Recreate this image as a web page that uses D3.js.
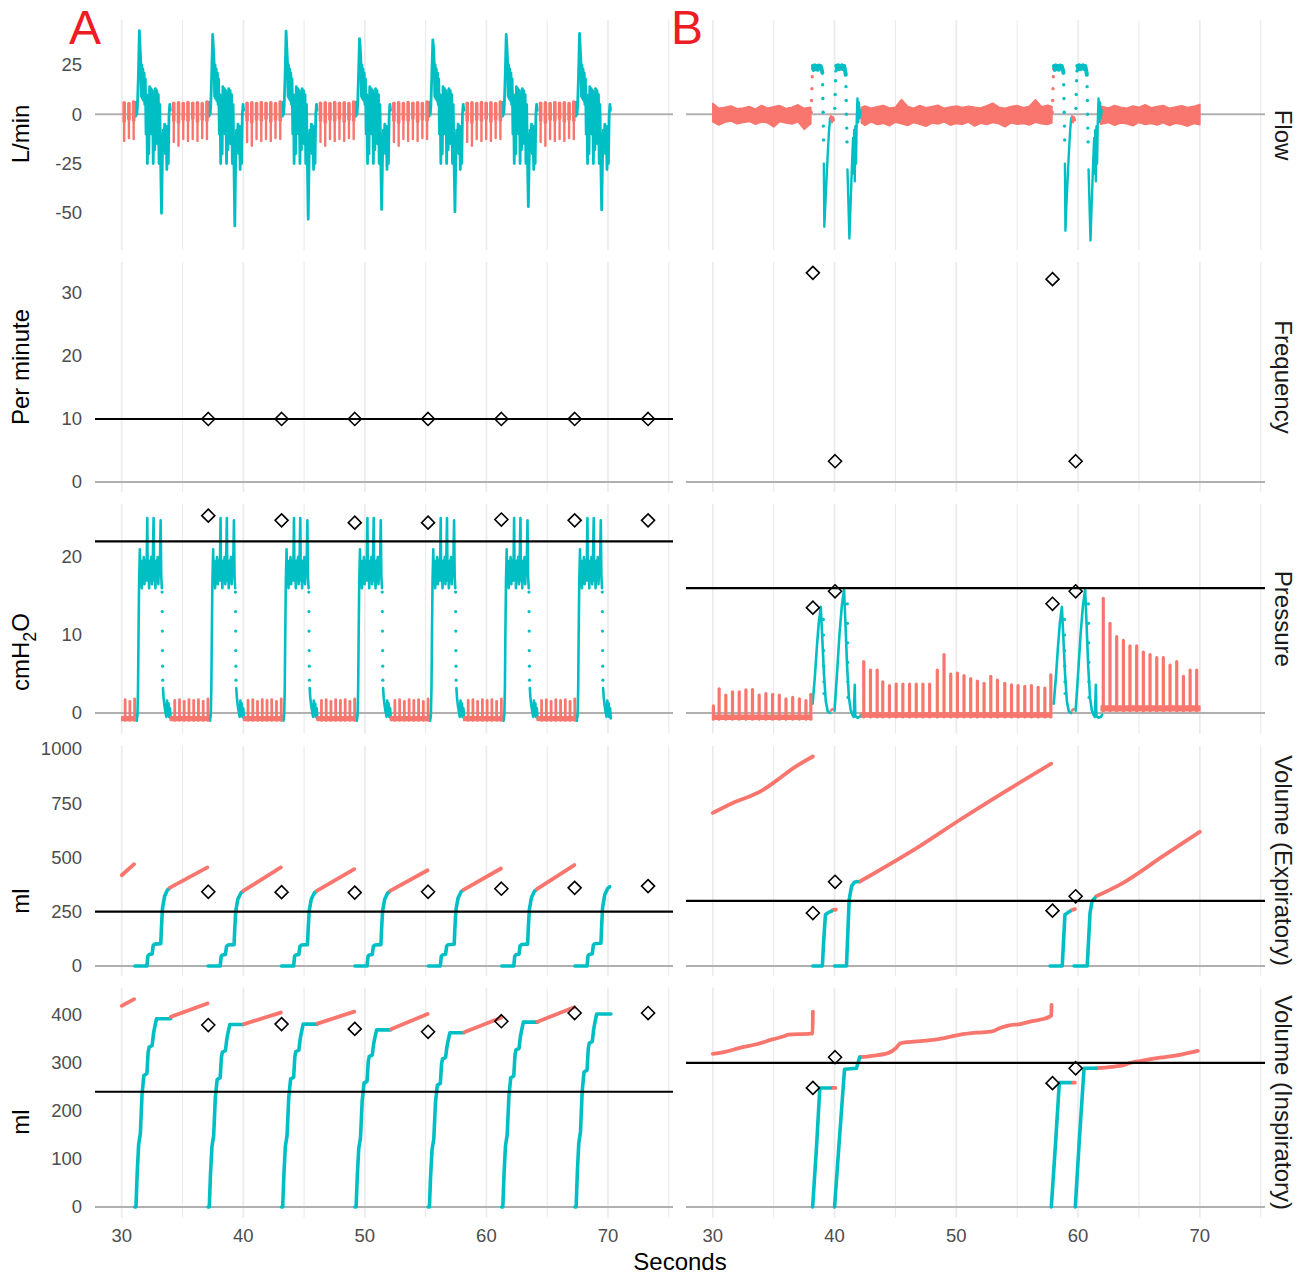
<!DOCTYPE html>
<html>
<head>
<meta charset="utf-8">
<script src="https://cdn.jsdelivr.net/npm/d3@7"></script>
<style>
  body { margin: 0; background: #fff; }
  svg { display: block; font-family: "Liberation Sans", Arial, Helvetica, sans-serif; }
</style>
</head>
<body>
<svg id="chart" width="1309" height="1275"></svg>
<script>
// ---------- axes / facets ----------
const xTicks = [30, 40, 50, 60, 70];
const xGrid = [30, 35, 40, 45, 50, 55, 60, 65, 70, 75];
const rowStrips = ['Flow', 'Frequency', 'Pressure', 'Volume (Expiratory)', 'Volume (Inspiratory)'];
const rowUnits = ['L/min', 'Per minute', 'cmH2O', 'ml', 'ml'];
const rowTicks = [[-50, -25, 0, 25], [0, 10, 20, 30], [0, 10, 20], [0, 250, 500, 750, 1000], [0, 100, 200, 300, 400]];
const rowDomains = [[-68.8, 47.8], [-1.59, 34.92], [-2.67, 26.82], [-44.7, 1014.7], [-22.1, 457]];
const targetA = [null, 10, 22, 250, 240];
const targetB = [null, null, 16, 300, 300];

// ---------- panel A : mandatory breaths ----------
const breathStartA = [31.07, 37.1, 43.14, 49.18, 55.21, 61.25, 67.28];
const flowPeakA = [42.4, 40.5, 42.2, 38.3, 37.7, 40.5, 41.0];
const flowDipA = [-50.2, -56.6, -53.2, -48.2, -49.4, -46.8, -48.5];
// one breath of flow, seconds from breath start ('P' = peak, 'D' = dip of that breath)
const flowBreathA = [[0, 0], [0.04, 6], [0.08, -1], [0.12, 6], [0.17, 0], [0.22, 4], [0.3, 20], [0.38, 'P'], [0.44, 34],
  [0.5, 26], [0.54, 9], [0.58, 25], [0.62, 8], [0.67, 23], [0.72, 7], [0.77, 21], [0.82, 5], [0.87, 18], [0.93, -10],
  [0.98, 10], [1.04, -25], [1.1, 8], [1.16, -20], [1.22, 14], [1.28, 2], [1.34, 13], [1.4, -10], [1.46, 12], [1.52, -25],
  [1.58, 10], [1.64, -18], [1.7, 13], [1.76, 0], [1.82, 12], [1.88, -15], [1.94, 10], [2.0, -25], [2.06, 5], [2.12, -20],
  [2.2, 'D'], [2.28, -20], [2.34, -8], [2.4, -15], [2.46, -5], [2.52, -20], [2.58, -6], [2.64, -28], [2.7, -10],
  [2.76, -25], [2.82, 0], [2.88, 5], [2.93, 2]];
// CPAP oscillation between breaths, seconds from end of breath
const gapBarT = [0.28, 0.67, 1.06, 1.45, 1.84, 2.23, 2.62, 3.01];
const flowGapHi = [5.6, 5.8, 5.5, 6.0, 5.6, 5.8, 5.4, 6.2];
const flowGapMid = [-3, -4, -2.5, -3, -2, -3.5, -2.5, -3];
const flowGapLo = [-14, -16, -12.5, -13.5, -12.5, -13.5, -12, -12.5];
const pressGapHi = [1.6, 1.7, 1.5, 1.7, 1.6, 1.7, 1.5, 1.8];
const pressGapBase = [-0.95, -0.5];

const pressBreathA = [[0, -0.8], [0.08, -0.4], [0.16, -1.0], [0.22, -0.3], [0.27, 3], [0.31, 10], [0.36, 17], [0.42, 21],
  [0.47, 16.5], [0.52, 19.5], [0.58, 16], [0.63, 19], [0.68, 18], [0.74, 20], [0.8, 16.5], [0.86, 19.5], [0.92, 17],
  [0.98, 19], [1.03, 25], [1.07, 17], [1.12, 19.5], [1.18, 16], [1.24, 19.5], [1.3, 17.5], [1.36, 20], [1.42, 16.5],
  [1.48, 19], [1.55, 25], [1.59, 17], [1.64, 19.5], [1.7, 16], [1.76, 19.5], [1.82, 17], [1.88, 20], [1.94, 16.5],
  [2.0, 19], [2.06, 18], [2.13, 24.7], [2.18, 17.5], [2.23, 16]];
const pressDropA = [[2.25, 15.5], [2.26, 13], [2.27, 10.5], [2.28, 8], [2.29, 6], [2.3, 4.2]];
const pressTailA = [[2.32, 3.2], [2.37, 2], [2.44, 1], [2.52, 0.2], [2.6, -0.5], [2.66, 1.6], [2.7, -0.3], [2.78, 1.2],
  [2.83, -0.5], [2.9, 0.6], [2.95, -0.7]];

const expBreathA = [[0, 0], [1.0, 0], [1.08, 46], [1.18, 52], [1.43, 55], [1.52, 94], [1.64, 100], [2.14, 102],
  [2.2, 180], [2.28, 262], [2.45, 318], [2.7, 348], [2.86, 355]];
const expTopA = [358, 343, 343, 343, 348, 351, 365];
const expGapStartA = [418, 361, 346, 346, 346, 351, 354];
const expGapEndA = [469, 454, 454, 446, 441, 449, 465];

const inspBreathA = [[0, 0], [0.1, 0], [0.2, 70], [0.32, 130], [0.46, 153], [0.6, 235], [0.75, 274], [1.0, 278],
  [1.1, 322], [1.18, 333], [1.43, 336], [1.55, 362], [1.64, 374], [1.79, 392], [2.96, 392]];
const inspTopA = [392, 380, 381, 369, 363, 385, 402];
const inspGapStartA = [419, 396, 381, 382, 370, 364, 386];
const inspGapEndA = [433, 424, 405, 407, 402, 394, 416];

const summaryTimeA = [37.12, 43.15, 49.17, 55.2, 61.23, 67.26, 73.3];
const freqA = [10, 10, 10, 10, 10, 10, 10];
const pressPeakA = [25.3, 24.7, 24.4, 24.4, 24.8, 24.7, 24.7];
const expVolA = [342, 340, 338, 342, 356, 360, 368];
const inspVolA = [379, 381, 371, 365, 387, 404, 404];

// ---------- panel B : spontaneous breathing ----------
const eventStartB = [38.08, 57.88];
const flowDipB = [[-57, -63], [-59, -64]];
// [phase, mark, points] with seconds from event start
const flowEventB = [
  ['rest', 'dots', [[0, 1], [0.03, 7], [0.06, 13], [0.09, 19], [0.12, 23]]],
  ['breath', 'thick', [[0.14, 24.5], [0.22, 22.5], [0.3, 24.8], [0.38, 23], [0.46, 24.5], [0.54, 22.6], [0.62, 24.7],
    [0.7, 23.2], [0.78, 24.4], [0.86, 22.8], [0.92, 21]]],
  ['breath', 'dots', [[0.94, 15], [0.96, 8], [0.98, 1], [1.0, -6], [1.02, -13]]],
  ['breath', 'line', [[1.04, -25], [1.08, 'D1'], [1.16, -46], [1.26, -33], [1.36, -20], [1.46, -9], [1.55, -2]]],
  ['rest', 'line', [[1.62, -1], [1.7, -4], [1.78, -1.5], [1.86, -3]]],
  ['breath', 'dots', [[1.94, 3], [1.97, 10], [2.0, 17], [2.03, 22]]],
  ['breath', 'thick', [[2.06, 24.6], [2.14, 23], [2.22, 24.9], [2.3, 22.8], [2.38, 24.5], [2.46, 23.3], [2.54, 24.8],
    [2.62, 23], [2.7, 24.5], [2.78, 22.5], [2.84, 20]]],
  ['breath', 'dots', [[2.86, 14], [2.88, 7], [2.9, 0], [2.92, -7], [2.94, -14]]],
  ['breath', 'line', [[2.98, -28], [3.14, 'D2'], [3.2, -52], [3.28, -38], [3.36, -24], [3.44, -12], [3.48, -30],
    [3.53, -8], [3.58, -34], [3.63, -6], [3.68, -25], [3.74, -3], [3.8, 8], [3.86, -4], [3.92, 6], [3.98, -2], [4.05, 2]]]
];
// resting flow noise: [seconds, low, high]
const flowNoiseB1 = [[30, -3.8, 5.5], [30.5, -5.4, 3.0], [31, -4.0, 3.5], [31.5, -3.4, 4.2], [32, -4.8, 2.8],
  [32.5, -4.2, 3.2], [33, -3.6, 3.9], [33.5, -5.0, 2.6], [34, -3.9, 4.5], [34.5, -4.3, 3.1], [35, -6.4, 3.8],
  [35.5, -3.7, 4.4], [36, -4.4, 2.9], [36.5, -4.9, 3.6], [37, -3.8, 4.8], [37.5, -7.6, 3.0], [38.05, -4.8, 3.5]];
const flowNoiseB2 = [[42.2, -4.3, 3.5], [42.5, -5.6, 4.2], [43, -3.8, 3.0], [43.5, -5.2, 3.8], [44, -4.6, 4.5],
  [44.5, -5.8, 3.2], [45, -4.0, 3.6], [45.5, -4.8, 7.5], [46, -5.7, 4.0], [46.5, -4.2, 3.1], [47, -5.0, 4.4],
  [47.5, -6.1, 3.3], [48, -4.4, 3.9], [48.5, -4.9, 4.6], [49, -3.8, 3.0], [49.5, -5.5, 3.7], [50, -4.7, 4.2],
  [50.5, -5.1, 3.4], [51, -3.9, 4.0], [51.5, -6.0, 3.5], [52, -4.5, 3.2], [52.5, -5.2, 4.3], [53, -4.1, 5.6],
  [53.5, -4.8, 3.6], [54, -6.3, 3.1], [54.5, -4.3, 3.9], [55, -5.0, 4.4], [55.5, -4.6, 3.3], [56, -5.4, 4.0],
  [56.5, -4.0, 7.4], [57, -4.8, 3.8], [57.5, -5.2, 4.6], [57.85, -4.3, 3.9]];
const flowNoiseB3 = [[61.85, -5.0, 4.0], [62.5, -4.2, 3.2], [63, -5.6, 4.5], [63.5, -4.4, 3.6], [64, -4.8, 3.0],
  [64.5, -5.8, 4.2], [65, -4.1, 3.5], [65.5, -5.2, 4.8], [66, -4.6, 3.3], [66.5, -5.4, 3.9], [67, -4.3, 4.4],
  [67.5, -5.7, 3.1], [68, -4.5, 3.7], [68.5, -5.0, 4.3], [69, -6.0, 3.4], [69.5, -4.7, 4.0], [70, -5.3, 5.0]];

const pressEventB = [
  ['breath', 'line', [[0.12, 1.2], [0.3, 4.6], [0.47, 8.5], [0.62, 11.5], [0.79, 13.6], [0.9, 10], [1.05, 5],
    [1.2, 1.5], [1.36, 0.2], [1.55, 0]]],
  ['breath', 'dots', [[1.0, 12], [1.01, 10], [1.02, 8], [1.03, 6], [1.04, 4], [1.05, 2.5]]],
  ['rest', 'line', [[1.62, 0.3], [1.75, 0.5]]],
  ['breath', 'line', [[1.92, 0.3], [2.12, 5], [2.32, 10], [2.52, 13.8], [2.7, 15.8], [2.8, 12], [2.95, 6], [3.1, 2],
    [3.25, 0.3], [3.4, -0.3], [3.5, -0.5], [3.58, 3.6], [3.62, -0.4], [3.8, -0.6], [4.0, -0.5], [4.1, -0.2]]],
  ['breath', 'dots', [[2.97, 14], [2.98, 11.5], [2.99, 9], [3.0, 6.5], [3.01, 4], [3.02, 2]]]
];
// resting pressure swings: [seconds, peak]
const pressBarsB1 = [[30.05, 0.9], [30.52, 3.1], [31.07, 2.3], [31.62, 2.7], [32.17, 2.7], [32.72, 2.95], [33.26, 3.0],
  [33.81, 2.3], [34.36, 2.5], [34.91, 2.4], [35.46, 2.3], [36.01, 1.8], [36.56, 2.0], [37.11, 1.8], [37.65, 1.6], [38.05, 2.4]];
const pressBarsB2 = [[42.4, 6.6], [42.95, 5.5], [43.5, 5.5], [43.96, 4.0], [44.51, 3.5], [45.06, 3.7], [45.61, 3.7],
  [46.16, 3.7], [46.71, 3.7], [47.26, 3.7], [47.81, 3.7], [48.44, 5.5], [48.99, 7.5], [49.54, 5.0], [50.09, 5.1],
  [50.63, 4.8], [51.18, 4.4], [51.73, 4.1], [52.28, 3.8], [52.83, 4.7], [53.38, 4.2], [53.98, 3.8], [54.53, 3.6],
  [55.07, 3.5], [55.62, 3.4], [56.17, 3.5], [56.72, 3.3], [57.27, 3.2], [57.76, 4.9]];
const pressBarsB3 = [[62.07, 14.7], [62.62, 11.5], [63.17, 9.8], [63.72, 9.3], [64.26, 8.6], [64.81, 8.6], [65.36, 7.8],
  [65.91, 7.5], [66.46, 7.1], [67.0, 7.1], [67.55, 6.15], [68.1, 6.6], [68.65, 4.7], [69.2, 5.5], [69.74, 5.5]];
// [from, to, low, high] of the dense bottom of each resting stretch
const pressBaseB = [[30.0, 38.1, -0.8, -0.3], [42.2, 57.8, -0.5, 0.0], [61.9, 70.0, 0.3, 0.9]];

const expRestB = [
  [[30, 705], [31.64, 751], [33.95, 805], [35.26, 855], [36.58, 910], [38.22, 965]],
  [[39.84, 257], [40.1, 260]],
  [[42.03, 388], [47.1, 556], [50.4, 677], [53.7, 793], [57.8, 932]],
  [[59.44, 257], [59.74, 262]],
  [[61.48, 321], [63.7, 383], [67.0, 507], [70, 618]]
];
const expBreathB = [
  [[38.2, 0], [39.0, 0], [39.1, 110], [39.25, 236], [39.5, 247], [39.74, 252]],
  [[40.0, 0], [40.98, 0], [41.2, 306], [41.4, 368], [41.64, 386], [41.87, 389]],
  [[57.7, 0], [58.7, 0], [58.8, 110], [58.92, 236], [59.18, 247], [59.34, 252]],
  [[59.67, 0], [60.75, 0], [60.98, 244], [61.15, 298], [61.38, 314]]
];
const inspRestB = [
  [[30, 319], [31, 323], [32.3, 332], [33.6, 339], [34.9, 349], [35.9, 356], [36.2, 359], [38.03, 361], [38.2, 362], [38.22, 407]],
  [[39.77, 248], [40.07, 248]],
  [[42.07, 312], [43.1, 315], [44.43, 321], [45.08, 332], [45.4, 341], [47.7, 347], [49.0, 352], [50.33, 359],
    [51.64, 363], [52.95, 366], [53.6, 373], [54.26, 378], [55.25, 381], [56.23, 387], [57.21, 392], [57.7, 397],
    [57.8, 399], [57.82, 421]],
  [[59.44, 259], [59.74, 259]],
  [[61.48, 289], [62.79, 292], [63.44, 294], [64.43, 301], [65.08, 304], [66.72, 311], [68.36, 317], [69.84, 325]]
];
const inspBreathB = [
  [[38.2, 0], [38.52, 125], [38.79, 248], [39.67, 248]],
  [[40.0, 0], [40.39, 139], [40.82, 287], [41.8, 289], [41.97, 304], [42.07, 312]],
  [[57.8, 0], [58.13, 125], [58.46, 259], [59.34, 259]],
  [[59.77, 0], [60.1, 139], [60.49, 289], [61.48, 289]]
];

const summaryTimeB = [38.22, 40.04, 57.9, 59.8];
const freqB = [33.2, 3.3, 32.2, 3.3];
const pressPeakB = [13.5, 15.6, 14.0, 15.6];
const expVolB = [244, 388, 255, 321];
const inspVolB = [248, 312, 258, 289];

// ---------- layout ----------
const svg = d3.select('#chart');
const panelH = 230;
const rowTop = [20, 262, 503.8, 745.7, 987.6];
const colLeft = [95, 686];
const colRight = [673, 1265];
const xDomain = [27.8, 75.35];

const xs = colLeft.map((l, c) => d3.scaleLinear().domain(xDomain).range([l, colRight[c]]));
const ys = rowTop.map((t, r) => d3.scaleLinear().domain(rowDomains[r]).range([t + panelH, t]));
const phaseColour = d3.scaleOrdinal().domain(['rest', 'breath']).range(['#F8766D', '#00BFC4']);
const salmon = phaseColour('rest');
const teal = phaseColour('breath');

const gridLayer = svg.append('g');
const dataLayer = svg.append('g');
const refLayer = svg.append('g');

// grid + zero lines
[0, 1].forEach(c => {
  rowTop.forEach((top, r) => {
    gridLayer.append('g').selectAll('line').data(xGrid).join('line')
      .attr('x1', d => xs[c](d)).attr('x2', d => xs[c](d))
      .attr('y1', top).attr('y2', top + panelH)
      .attr('stroke', '#EBEBEB').attr('stroke-width', d => d % 10 === 0 ? 1.7 : 1.1);
    gridLayer.append('line')
      .attr('x1', colLeft[c]).attr('x2', colRight[c])
      .attr('y1', ys[r](0)).attr('y2', ys[r](0))
      .attr('stroke', '#B0B0B0').attr('stroke-width', 2);
  });
});

// ---------- mark helpers ----------
function line(c, r, pts, colour, w, curve = d3.curveLinear) {
  dataLayer.append('path').datum(pts)
    .attr('d', d3.line().curve(curve).x(d => xs[c](d[0])).y(d => ys[r](d[1])))
    .attr('fill', 'none').attr('stroke', colour).attr('stroke-width', w)
    .attr('stroke-linejoin', 'round').attr('stroke-linecap', 'round');
}
function dots(c, r, pts, colour, rad) {
  dataLayer.append('g').selectAll('circle').data(pts).join('circle')
    .attr('cx', d => xs[c](d[0])).attr('cy', d => ys[r](d[1]))
    .attr('r', rad).attr('fill', colour);
}
function bars(c, r, data, colour, w) {
  dataLayer.append('g').selectAll('line').data(data).join('line')
    .attr('x1', d => xs[c](d[0])).attr('x2', d => xs[c](d[0]))
    .attr('y1', d => ys[r](d[1])).attr('y2', d => ys[r](d[2]))
    .attr('stroke', colour).attr('stroke-width', w).attr('stroke-linecap', 'round');
}
function band(c, r, data, colour, w = 1.6) {
  dataLayer.append('path').datum(data)
    .attr('d', d3.area().x(d => xs[c](d[0])).y0(d => ys[r](d[1])).y1(d => ys[r](d[2])))
    .attr('fill', colour).attr('stroke', colour).attr('stroke-width', w).attr('stroke-linejoin', 'round');
}
function diamonds(c, r, times, vals) {
  refLayer.append('g').selectAll('path').data(times.map((t, i) => [t, vals[i]])).join('path')
    .attr('transform', d => `translate(${xs[c](d[0])},${ys[r](d[1])})`)
    .attr('d', 'M0,-6.5L6.5,0L0,6.5L-6.5,0Z')
    .attr('fill', 'none').attr('stroke', '#000').attr('stroke-width', 1.6);
}
const place = (tpl, T, f = v => v) => tpl.map(([o, v]) => [T + o, f(v)]);

// ---------- panel A ----------
breathStartA.forEach((T, i) => {
  line(0, 0, place(flowBreathA, T, v => v === 'P' ? flowPeakA[i] : v === 'D' ? flowDipA[i] : v), teal, 2.8);
  line(0, 2, place(pressBreathA, T), teal, 2.6);
  dots(0, 2, place(pressDropA, T), teal, 1.6);
  line(0, 2, place(pressTailA, T), teal, 2.6);
  line(0, 3, place(expBreathA, T, v => v * expTopA[i] / 355), teal, 3.6);
  line(0, 4, place(inspBreathA, T, v => v * inspTopA[i] / 392), teal, 3.6);
});

breathStartA.forEach((end, k) => {
  const barBase = k === 0 ? end - 3.1 : breathStartA[k - 1] + 2.93;
  const from = k === 0 ? 30 : barBase;
  const fb = gapBarT.map((o, j) => [barBase + o, flowGapLo[j], flowGapHi[j], flowGapMid[j]]).filter(d => d[0] >= 30 && d[0] < end);
  bars(0, 0, fb, salmon, 2.4);
  bars(0, 0, fb.map(d => [d[0], d[3], d[2]]), salmon, 3.6);
  band(0, 2, [[from, pressGapBase[0], pressGapBase[1]], [end, pressGapBase[0], pressGapBase[1]]], salmon);
  const pb = gapBarT.map((o, j) => [barBase + o + 0.08, pressGapBase[0], pressGapHi[j]]).filter(d => d[0] >= 30 && d[0] < end);
  bars(0, 2, pb, salmon, 2.8);
  line(0, 3, [[k === 0 ? 30 : breathStartA[k - 1] + 2.9, expGapStartA[k]], [end - 0.05, expGapEndA[k]]], salmon, 3.8);
  line(0, 4, [[k === 0 ? 30 : breathStartA[k - 1] + 2.96, inspGapStartA[k]], [end - 0.05, inspGapEndA[k]]], salmon, 3.8);
});

// ---------- panel B ----------
[flowNoiseB1, flowNoiseB2, flowNoiseB3].forEach(seg => band(1, 0, seg, salmon));
eventStartB.forEach((T, e) => {
  flowEventB.forEach(([phase, mark, pts]) => {
    const p = place(pts, T, v => v === 'D1' ? flowDipB[e][0] : v === 'D2' ? flowDipB[e][1] : v);
    if (mark === 'dots') dots(1, 0, p, phaseColour(phase), 1.7);
    else line(1, 0, p, phaseColour(phase), mark === 'thick' ? 4 : 2.4);
  });
  pressEventB.forEach(([phase, mark, pts]) => {
    const p = place(pts, T);
    if (mark === 'line') line(1, 2, p, phaseColour(phase), 2.6);
    else dots(1, 2, p, phaseColour(phase), 1.6);
  });
});
pressBaseB.forEach(([a, b, lo, hi]) => band(1, 2, [[a, lo, hi], [b, lo, hi]], salmon));
[pressBarsB1, pressBarsB2, pressBarsB3].forEach((seg, s) => {
  bars(1, 2, seg.map(([t, v]) => [t, pressBaseB[s][2], v]), salmon, 3.2);
});
expRestB.forEach(seg => line(1, 3, seg, salmon, 3.8, d3.curveMonotoneX));
expBreathB.forEach(seg => line(1, 3, seg, teal, 3.6));
inspRestB.forEach(seg => line(1, 4, seg, salmon, 3.8, d3.curveMonotoneX));
inspBreathB.forEach(seg => line(1, 4, seg, teal, 3.6));

// ---------- targets + summaries ----------
[targetA, targetB].forEach((targets, c) => {
  targets.forEach((v, r) => {
    if (v === null) return;
    refLayer.append('line')
      .attr('x1', colLeft[c]).attr('x2', colRight[c])
      .attr('y1', ys[r](v)).attr('y2', ys[r](v))
      .attr('stroke', '#000').attr('stroke-width', 2.2);
  });
});
[freqA, pressPeakA, expVolA, inspVolA].forEach((vals, i) => diamonds(0, i + 1, summaryTimeA, vals));
[freqB, pressPeakB, expVolB, inspVolB].forEach((vals, i) => diamonds(1, i + 1, summaryTimeB, vals));

// ---------- text ----------
const textLayer = svg.append('g');
rowTicks.forEach((ticks, r) => {
  textLayer.append('g').selectAll('text').data(ticks).join('text')
    .attr('x', 82).attr('y', d => ys[r](d)).attr('dy', '0.35em')
    .attr('text-anchor', 'end').attr('font-size', 18.5).attr('fill', '#4D4D4D')
    .text(d => d);
});
[0, 1].forEach(c => {
  textLayer.append('g').selectAll('text').data(xTicks).join('text')
    .attr('x', d => xs[c](d)).attr('y', 1236).attr('dy', '0.35em')
    .attr('text-anchor', 'middle').attr('font-size', 18.5).attr('fill', '#4D4D4D')
    .text(d => d);
});
const unitY = [134, 367, 652, 901, 1122];
rowUnits.forEach((u, r) => {
  const t = textLayer.append('text')
    .attr('transform', `translate(28.5,${unitY[r]}) rotate(-90)`)
    .attr('text-anchor', 'middle').attr('font-size', 24).attr('fill', '#000');
  if (u === 'cmH2O') {
    t.append('tspan').text('cmH');
    t.append('tspan').text('2').attr('font-size', 18).attr('dy', 7);
    t.append('tspan').text('O').attr('dy', -7);
  } else {
    t.text(u);
  }
});
rowStrips.forEach((s, r) => {
  textLayer.append('text')
    .attr('transform', `translate(1275,${rowTop[r] + panelH / 2}) rotate(90)`)
    .attr('text-anchor', 'middle').attr('font-size', 24).attr('fill', '#1A1A1A')
    .text(s);
});
textLayer.append('text')
  .attr('x', 680).attr('y', 1270).attr('text-anchor', 'middle')
  .attr('font-size', 24).attr('fill', '#000').text('Seconds');
[['A', 69], ['B', 671]].forEach(([lab, x]) => {
  textLayer.append('text')
    .attr('x', x).attr('y', 44).attr('font-size', 48).attr('fill', '#EE1C25').text(lab);
});
</script>
</body>
</html>
